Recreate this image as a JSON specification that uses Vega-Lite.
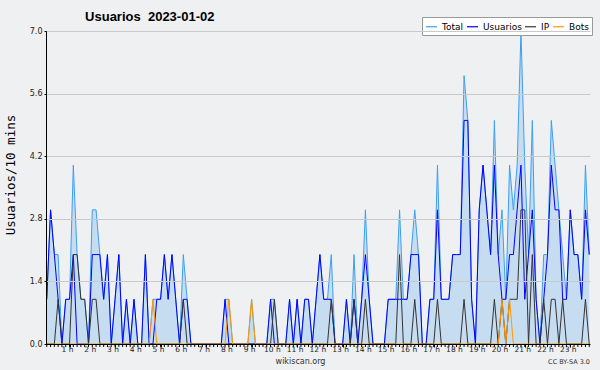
{
  "$schema": "https://vega.github.io/schema/vega-lite/v6.json",
  "width": 544,
  "height": 313,
  "autosize": {"type": "none"},
  "padding": {"left": 46, "top": 31, "right": 10, "bottom": 26},
  "background": "#eff0f2",
  "config": {"view": {"stroke": null, "fill": "#eff0f2"}, "font": "DejaVu Sans"},
  "data": {"values": [
    {"i":0,"Total":1,"Usuarios":1,"IP":0,"Bots":0},
    {"i":1,"Total":3,"Usuarios":3,"IP":0,"Bots":0},
    {"i":2,"Total":2,"Usuarios":2,"IP":0,"Bots":0},
    {"i":3,"Total":2,"Usuarios":1,"IP":1,"Bots":0},
    {"i":4,"Total":0,"Usuarios":0,"IP":0,"Bots":0},
    {"i":5,"Total":1,"Usuarios":1,"IP":0,"Bots":0},
    {"i":6,"Total":1,"Usuarios":1,"IP":0,"Bots":0},
    {"i":7,"Total":4,"Usuarios":2,"IP":2,"Bots":0},
    {"i":8,"Total":2,"Usuarios":0,"IP":2,"Bots":0},
    {"i":9,"Total":1,"Usuarios":0,"IP":1,"Bots":0},
    {"i":10,"Total":1,"Usuarios":0,"IP":1,"Bots":0},
    {"i":11,"Total":0,"Usuarios":0,"IP":0,"Bots":0},
    {"i":12,"Total":3,"Usuarios":2,"IP":1,"Bots":0},
    {"i":13,"Total":3,"Usuarios":2,"IP":1,"Bots":0},
    {"i":14,"Total":2,"Usuarios":2,"IP":0,"Bots":0},
    {"i":15,"Total":1,"Usuarios":1,"IP":0,"Bots":0},
    {"i":16,"Total":2,"Usuarios":2,"IP":0,"Bots":0},
    {"i":17,"Total":0,"Usuarios":0,"IP":0,"Bots":0},
    {"i":18,"Total":1,"Usuarios":1,"IP":0,"Bots":0},
    {"i":19,"Total":2,"Usuarios":2,"IP":0,"Bots":0},
    {"i":20,"Total":0,"Usuarios":0,"IP":0,"Bots":0},
    {"i":21,"Total":1,"Usuarios":1,"IP":0,"Bots":0},
    {"i":22,"Total":0,"Usuarios":0,"IP":0,"Bots":0},
    {"i":23,"Total":1,"Usuarios":1,"IP":0,"Bots":0},
    {"i":24,"Total":0,"Usuarios":0,"IP":0,"Bots":0},
    {"i":25,"Total":0,"Usuarios":0,"IP":0,"Bots":0},
    {"i":26,"Total":2,"Usuarios":2,"IP":0,"Bots":0},
    {"i":27,"Total":0,"Usuarios":0,"IP":0,"Bots":0},
    {"i":28,"Total":1,"Usuarios":0,"IP":0,"Bots":1},
    {"i":29,"Total":1,"Usuarios":1,"IP":0,"Bots":0},
    {"i":30,"Total":1,"Usuarios":1,"IP":0,"Bots":0},
    {"i":31,"Total":2,"Usuarios":2,"IP":0,"Bots":0},
    {"i":32,"Total":1,"Usuarios":1,"IP":0,"Bots":0},
    {"i":33,"Total":2,"Usuarios":2,"IP":0,"Bots":0},
    {"i":34,"Total":1,"Usuarios":1,"IP":0,"Bots":0},
    {"i":35,"Total":0,"Usuarios":0,"IP":0,"Bots":0},
    {"i":36,"Total":2,"Usuarios":1,"IP":1,"Bots":0},
    {"i":37,"Total":1,"Usuarios":1,"IP":0,"Bots":0},
    {"i":38,"Total":0,"Usuarios":0,"IP":0,"Bots":0},
    {"i":39,"Total":0,"Usuarios":0,"IP":0,"Bots":0},
    {"i":40,"Total":0,"Usuarios":0,"IP":0,"Bots":0},
    {"i":41,"Total":0,"Usuarios":0,"IP":0,"Bots":0},
    {"i":42,"Total":0,"Usuarios":0,"IP":0,"Bots":0},
    {"i":43,"Total":0,"Usuarios":0,"IP":0,"Bots":0},
    {"i":44,"Total":0,"Usuarios":0,"IP":0,"Bots":0},
    {"i":45,"Total":0,"Usuarios":0,"IP":0,"Bots":0},
    {"i":46,"Total":0,"Usuarios":0,"IP":0,"Bots":0},
    {"i":47,"Total":1,"Usuarios":1,"IP":0,"Bots":0},
    {"i":48,"Total":1,"Usuarios":0,"IP":0,"Bots":1},
    {"i":49,"Total":0,"Usuarios":0,"IP":0,"Bots":0},
    {"i":50,"Total":0,"Usuarios":0,"IP":0,"Bots":0},
    {"i":51,"Total":0,"Usuarios":0,"IP":0,"Bots":0},
    {"i":52,"Total":0,"Usuarios":0,"IP":0,"Bots":0},
    {"i":53,"Total":0,"Usuarios":0,"IP":0,"Bots":0},
    {"i":54,"Total":1,"Usuarios":0,"IP":0,"Bots":1},
    {"i":55,"Total":0,"Usuarios":0,"IP":0,"Bots":0},
    {"i":56,"Total":0,"Usuarios":0,"IP":0,"Bots":0},
    {"i":57,"Total":0,"Usuarios":0,"IP":0,"Bots":0},
    {"i":58,"Total":0,"Usuarios":0,"IP":0,"Bots":0},
    {"i":59,"Total":1,"Usuarios":1,"IP":0,"Bots":0},
    {"i":60,"Total":1,"Usuarios":0,"IP":1,"Bots":0},
    {"i":61,"Total":0,"Usuarios":0,"IP":0,"Bots":0},
    {"i":62,"Total":0,"Usuarios":0,"IP":0,"Bots":0},
    {"i":63,"Total":0,"Usuarios":0,"IP":0,"Bots":0},
    {"i":64,"Total":1,"Usuarios":1,"IP":0,"Bots":0},
    {"i":65,"Total":0,"Usuarios":0,"IP":0,"Bots":0},
    {"i":66,"Total":1,"Usuarios":1,"IP":0,"Bots":0},
    {"i":67,"Total":0,"Usuarios":0,"IP":0,"Bots":0},
    {"i":68,"Total":1,"Usuarios":1,"IP":0,"Bots":0},
    {"i":69,"Total":1,"Usuarios":1,"IP":0,"Bots":0},
    {"i":70,"Total":0,"Usuarios":0,"IP":0,"Bots":0},
    {"i":71,"Total":1,"Usuarios":1,"IP":0,"Bots":0},
    {"i":72,"Total":2,"Usuarios":2,"IP":0,"Bots":0},
    {"i":73,"Total":1,"Usuarios":1,"IP":0,"Bots":0},
    {"i":74,"Total":1,"Usuarios":1,"IP":0,"Bots":0},
    {"i":75,"Total":2,"Usuarios":1,"IP":1,"Bots":0},
    {"i":76,"Total":0,"Usuarios":0,"IP":0,"Bots":0},
    {"i":77,"Total":0,"Usuarios":0,"IP":0,"Bots":0},
    {"i":78,"Total":0,"Usuarios":0,"IP":0,"Bots":0},
    {"i":79,"Total":1,"Usuarios":1,"IP":0,"Bots":0},
    {"i":80,"Total":0,"Usuarios":0,"IP":0,"Bots":0},
    {"i":81,"Total":2,"Usuarios":1,"IP":1,"Bots":0},
    {"i":82,"Total":0,"Usuarios":0,"IP":0,"Bots":0},
    {"i":83,"Total":1,"Usuarios":1,"IP":0,"Bots":0},
    {"i":84,"Total":3,"Usuarios":2,"IP":1,"Bots":0},
    {"i":85,"Total":1,"Usuarios":1,"IP":0,"Bots":0},
    {"i":86,"Total":0,"Usuarios":0,"IP":0,"Bots":0},
    {"i":87,"Total":0,"Usuarios":0,"IP":0,"Bots":0},
    {"i":88,"Total":0,"Usuarios":0,"IP":0,"Bots":0},
    {"i":89,"Total":0,"Usuarios":0,"IP":0,"Bots":0},
    {"i":90,"Total":1,"Usuarios":1,"IP":0,"Bots":0},
    {"i":91,"Total":1,"Usuarios":1,"IP":0,"Bots":0},
    {"i":92,"Total":1,"Usuarios":1,"IP":0,"Bots":0},
    {"i":93,"Total":3,"Usuarios":1,"IP":2,"Bots":0},
    {"i":94,"Total":1,"Usuarios":1,"IP":0,"Bots":0},
    {"i":95,"Total":1,"Usuarios":1,"IP":0,"Bots":0},
    {"i":96,"Total":2,"Usuarios":2,"IP":0,"Bots":0},
    {"i":97,"Total":3,"Usuarios":2,"IP":1,"Bots":0},
    {"i":98,"Total":2,"Usuarios":2,"IP":0,"Bots":0},
    {"i":99,"Total":0,"Usuarios":0,"IP":0,"Bots":0},
    {"i":100,"Total":0,"Usuarios":0,"IP":0,"Bots":0},
    {"i":101,"Total":1,"Usuarios":1,"IP":0,"Bots":0},
    {"i":102,"Total":1,"Usuarios":1,"IP":0,"Bots":0},
    {"i":103,"Total":4,"Usuarios":3,"IP":1,"Bots":0},
    {"i":104,"Total":1,"Usuarios":1,"IP":0,"Bots":0},
    {"i":105,"Total":1,"Usuarios":1,"IP":0,"Bots":0},
    {"i":106,"Total":1,"Usuarios":1,"IP":0,"Bots":0},
    {"i":107,"Total":2,"Usuarios":2,"IP":0,"Bots":0},
    {"i":108,"Total":2,"Usuarios":2,"IP":0,"Bots":0},
    {"i":109,"Total":2,"Usuarios":2,"IP":0,"Bots":0},
    {"i":110,"Total":6,"Usuarios":5,"IP":1,"Bots":0},
    {"i":111,"Total":5,"Usuarios":5,"IP":0,"Bots":0},
    {"i":112,"Total":1,"Usuarios":1,"IP":0,"Bots":0},
    {"i":113,"Total":0,"Usuarios":0,"IP":0,"Bots":0},
    {"i":114,"Total":3,"Usuarios":3,"IP":0,"Bots":0},
    {"i":115,"Total":4,"Usuarios":4,"IP":0,"Bots":0},
    {"i":116,"Total":3,"Usuarios":3,"IP":0,"Bots":0},
    {"i":117,"Total":2,"Usuarios":2,"IP":0,"Bots":0},
    {"i":118,"Total":5,"Usuarios":4,"IP":1,"Bots":0},
    {"i":119,"Total":2,"Usuarios":2,"IP":0,"Bots":0},
    {"i":120,"Total":3,"Usuarios":1,"IP":1,"Bots":1},
    {"i":121,"Total":1,"Usuarios":1,"IP":0,"Bots":0},
    {"i":122,"Total":4,"Usuarios":2,"IP":1,"Bots":1},
    {"i":123,"Total":3,"Usuarios":2,"IP":1,"Bots":0},
    {"i":124,"Total":4,"Usuarios":3,"IP":1,"Bots":0},
    {"i":125,"Total":7,"Usuarios":4,"IP":3,"Bots":0},
    {"i":126,"Total":4,"Usuarios":1,"IP":3,"Bots":0},
    {"i":127,"Total":2,"Usuarios":2,"IP":0,"Bots":0},
    {"i":128,"Total":5,"Usuarios":3,"IP":2,"Bots":0},
    {"i":129,"Total":1,"Usuarios":1,"IP":0,"Bots":0},
    {"i":130,"Total":0,"Usuarios":0,"IP":0,"Bots":0},
    {"i":131,"Total":2,"Usuarios":1,"IP":1,"Bots":0},
    {"i":132,"Total":2,"Usuarios":2,"IP":0,"Bots":0},
    {"i":133,"Total":5,"Usuarios":4,"IP":1,"Bots":0},
    {"i":134,"Total":4,"Usuarios":3,"IP":1,"Bots":0},
    {"i":135,"Total":3,"Usuarios":3,"IP":0,"Bots":0},
    {"i":136,"Total":2,"Usuarios":1,"IP":1,"Bots":0},
    {"i":137,"Total":1,"Usuarios":1,"IP":0,"Bots":0},
    {"i":138,"Total":3,"Usuarios":3,"IP":0,"Bots":0},
    {"i":139,"Total":2,"Usuarios":2,"IP":0,"Bots":0},
    {"i":140,"Total":2,"Usuarios":2,"IP":0,"Bots":0},
    {"i":141,"Total":1,"Usuarios":1,"IP":0,"Bots":0},
    {"i":142,"Total":4,"Usuarios":3,"IP":1,"Bots":0},
    {"i":143,"Total":2,"Usuarios":2,"IP":0,"Bots":0}
  ]},
  "layer": [
    {
      "mark": {"type": "area", "color": "#c6dcf0", "opacity": 1},
      "encoding": {
        "x": {"field": "i", "type": "quantitative", "scale": {"domain": [-0.2, 143.2], "nice": false, "zero": false},
          "axis": {
            "values": [6,12,18,24,30,36,42,48,54,60,66,72,78,84,90,96,102,108,114,120,126,132,138],
            "labels": false,
            "grid": false, "tickSize": 3, "tickColor": "#000000", "domainColor": "#000000",
            "title": "wikiscan.org", "titleFontSize": 8, "titleFontWeight": "normal", "titleColor": "#333333",
            "titleX": 254, "titleY": 17, "titleBaseline": "middle", "titleAlign": "center", "zindex": 1
          }},
        "y": {"field": "Total", "type": "quantitative", "scale": {"domain": [0, 7], "nice": false},
          "axis": {
            "values": [0,0.35,0.7,1.05,1.4,1.75,2.1,2.45,2.8,3.15,3.5,3.85,4.2,4.55,4.9,5.25,5.6,5.95,6.3,6.65,7],
            "labelExpr": "indexof([0,1.4,2.8,4.2,5.6,7], datum.value) >= 0 ? format(datum.value, '.1f') : ''",
            "grid": true,
            "gridColor": {"condition": {"test": "indexof([1.4,2.8,4.2,5.6,7], datum.value) >= 0", "value": "#c9c9c9"}, "value": "transparent"},
            "tickSize": 2, "tickColor": "#000000", "domainColor": "#000000",
            "labelFontSize": 8, "labelColor": "#222222", "labelPadding": 2, "labelOverlap": false, "labelBound": false,
            "title": "Usuarios/10 mins", "titleFont": "DejaVu Sans Mono", "titleFontSize": 12.5, "titleFontWeight": "normal", "titleColor": "#000000",
            "titleX": -36, "titleY": 143.5, "titleAngle": -90, "titleAlign": "center", "titleBaseline": "middle", "zindex": 1
          }}
      }
    },
    {
      "mark": {"type": "rule", "color": "#000000", "strokeWidth": 1},
      "encoding": {
        "x": {"field": "i", "type": "quantitative"},
        "y": {"datum": 0, "type": "quantitative"},
        "y2": {"datum": -0.067}
      }
    },
    {
      "mark": {"type": "line", "strokeWidth": 1},
      "encoding": {
        "x": {"field": "i", "type": "quantitative"},
        "y": {"field": "Total", "type": "quantitative"},
        "color": {"datum": "Total", "scale": {"domain": ["Total", "Usuarios", "IP", "Bots"], "range": ["#3d9ff2", "#0000ff", "#333333", "#ff9900"]},
          "legend": {"orient": "none", "legendX": 376, "legendY": -14, "direction": "horizontal", "title": null,
            "symbolType": "stroke", "symbolSize": 121, "symbolStrokeWidth": 1.2,
            "labelFontSize": 9, "labelFont": "DejaVu Sans", "labelColor": "#000000",
            "fillColor": "#ffffff", "strokeColor": "#999999", "padding": 3, "columnPadding": 0, "labelOffset": 4}}
      }
    },
    {
      "mark": {"type": "line", "strokeWidth": 1},
      "encoding": {
        "x": {"field": "i", "type": "quantitative"},
        "y": {"field": "Usuarios", "type": "quantitative"},
        "color": {"datum": "Usuarios"}
      }
    },
    {
      "mark": {"type": "line", "strokeWidth": 1},
      "encoding": {
        "x": {"field": "i", "type": "quantitative"},
        "y": {"field": "IP", "type": "quantitative"},
        "color": {"datum": "IP"}
      }
    },
    {
      "mark": {"type": "line", "strokeWidth": 1},
      "encoding": {
        "x": {"field": "i", "type": "quantitative"},
        "y": {"field": "Bots", "type": "quantitative"},
        "color": {"datum": "Bots"}
      }
    },
    {
      "data": {"values": [
        {"h":6,"lab":"1 h"},{"h":12,"lab":"2 h"},{"h":18,"lab":"3 h"},{"h":24,"lab":"4 h"},{"h":30,"lab":"5 h"},{"h":36,"lab":"6 h"},
        {"h":42,"lab":"7 h"},{"h":48,"lab":"8 h"},{"h":54,"lab":"9 h"},{"h":60,"lab":"10 h"},{"h":66,"lab":"11 h"},{"h":72,"lab":"12 h"},
        {"h":78,"lab":"13 h"},{"h":84,"lab":"14 h"},{"h":90,"lab":"15 h"},{"h":96,"lab":"16 h"},{"h":102,"lab":"17 h"},{"h":108,"lab":"18 h"},
        {"h":114,"lab":"19 h"},{"h":120,"lab":"20 h"},{"h":126,"lab":"21 h"},{"h":132,"lab":"22 h"},{"h":138,"lab":"23 h"}
      ]},
      "mark": {"type": "text", "fontSize": 7.5, "color": "#222222", "baseline": "middle", "align": "center", "dx": -2},
      "encoding": {
        "x": {"field": "h", "type": "quantitative"},
        "y": {"datum": -0.14, "type": "quantitative"},
        "text": {"field": "lab"}
      }
    },
    {
      "data": {"values": [{"t": "Usuarios\u00a0\u00a02023-01-02"}]},
      "mark": {"type": "text", "align": "left", "baseline": "alphabetic", "font": "Liberation Sans", "fontSize": 13, "fontWeight": "bold", "color": "#000000"},
      "encoding": {
        "x": {"datum": 10.1, "type": "quantitative"},
        "y": {"datum": 7.213, "type": "quantitative"},
        "text": {"field": "t"}
      }
    },
    {
      "data": {"values": [{"note": "CC BY-SA 3.0"}]},
      "mark": {"type": "text", "align": "right", "baseline": "middle", "fontSize": 6.5, "color": "#333333"},
      "encoding": {
        "x": {"datum": 143.2, "type": "quantitative"},
        "y": {"datum": -0.4, "type": "quantitative"},
        "text": {"field": "note"}
      }
    }
  ]
}
